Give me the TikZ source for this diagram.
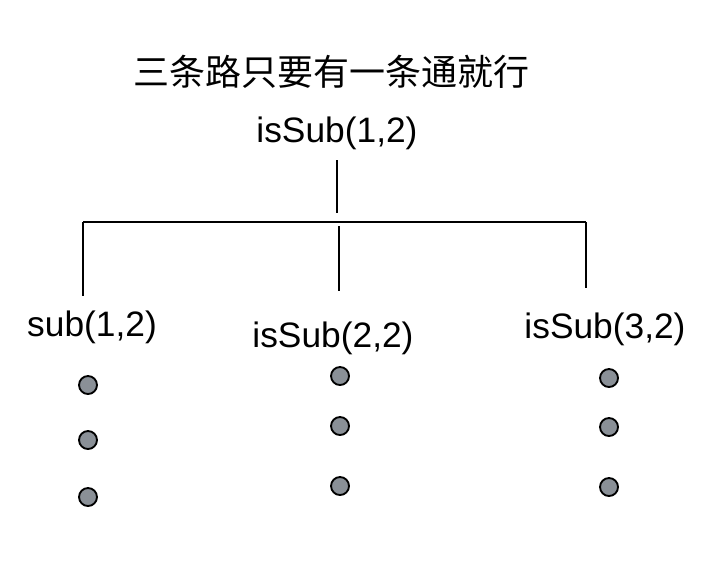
\documentclass[tikz,border=0pt]{standalone}
\usepackage{fontspec}
\setmainfont{Liberation Sans}
\newfontfamily\cjk{Noto Sans CJK SC}
\usetikzlibrary{positioning}
\definecolor{dotgray}{HTML}{8A9097}

\begin{document}
\begin{tikzpicture}[x=0.75pt, y=-0.75pt, line width=1.2pt,
    font=\fontsize{26.5}{30}\selectfont,
    dot/.style={circle, draw=black, line width=1.4pt, fill=dotgray, inner sep=0pt, minimum size=13.5pt}]
            \useasboundingbox (0,0) rectangle (710,562);

            \node (title) at (331,72) {\cjk\fontsize{27}{31}\selectfont 三条路只要有一条通就行};
            \node (root) at (337,133) {isSub(1,2)};

            \coordinate (rootT) at (337,160);
            \coordinate (rootB) at (337,213);
            \draw (rootT) -- (rootB);

            \coordinate (barL) at (83,222);
            \coordinate (barR) at (586,222);
            \draw (barL) -- (barR);

            \node (sub) at (92,327) {sub(1,2)};
            \node (isSubA) at (333,338) {isSub(2,2)};
            \node (isSubB) at (605,329) {isSub(3,2)};

            \coordinate (subT) at (83,296);
            \coordinate (midT) at (339,226);
            \coordinate (isSubAT) at (339,291);
            \coordinate (isSubBT) at (586,288);
            \draw (barL) -- (subT);
            \draw (midT) -- (isSubAT);
            \draw (barR) -- (isSubBT);

            % three dots under each child
            \foreach \y [count=\i] in {385,440,497}
                \node[dot] (subD\i) at (88,\y) {};
            \foreach \y [count=\i] in {376,426,486}
                \node[dot] (isSubAD\i) at (340,\y) {};
            \foreach \y [count=\i] in {378,427,487}
                \node[dot] (isSubBD\i) at (609,\y) {};
        \end{tikzpicture}
\end{document}
